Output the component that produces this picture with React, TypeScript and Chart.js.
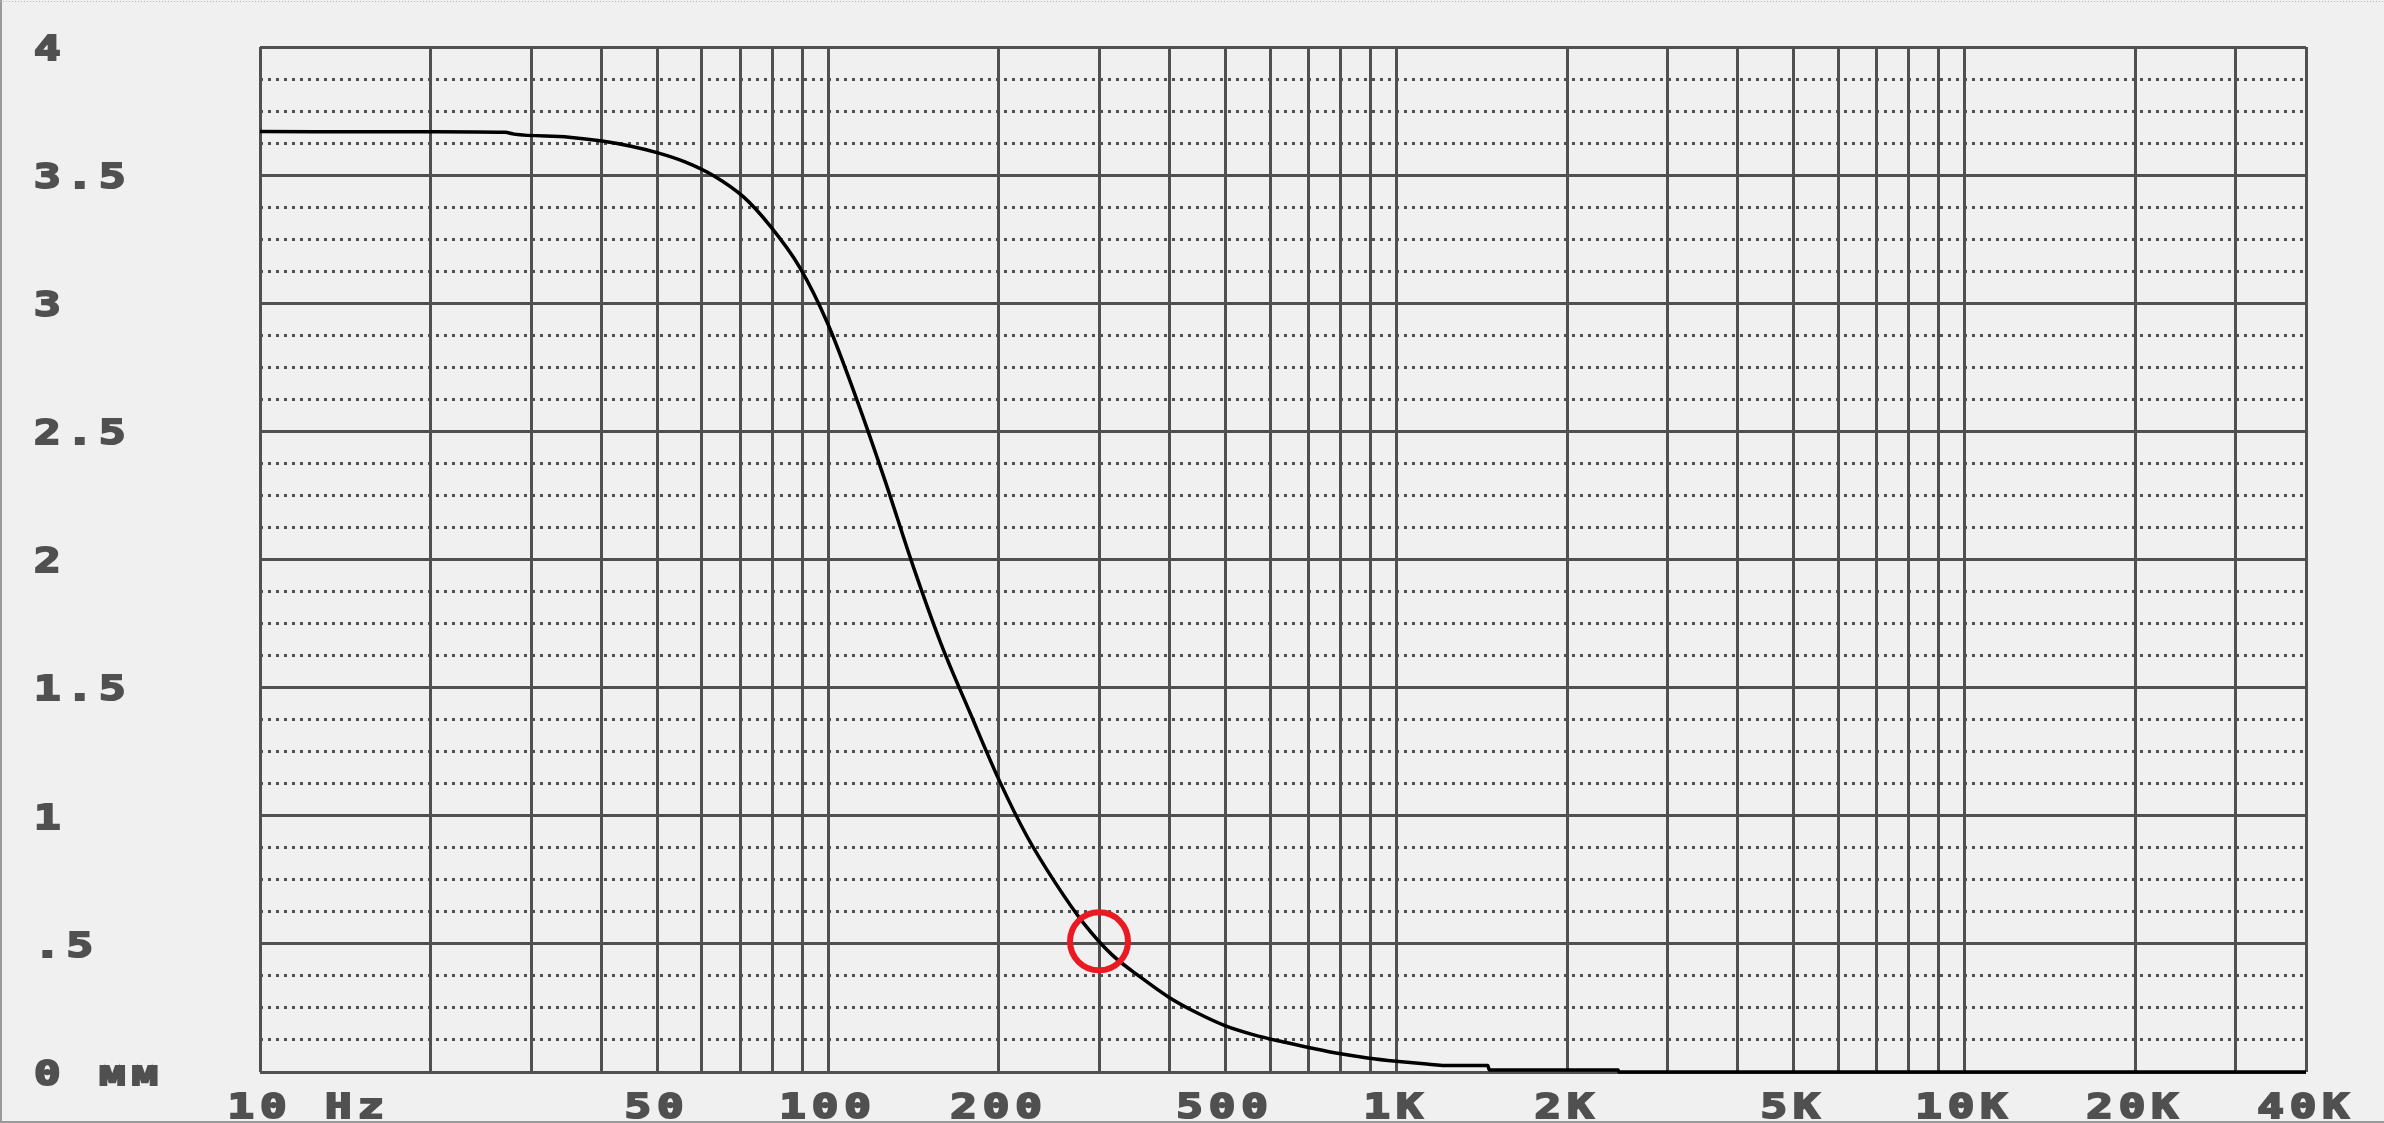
import React, { useEffect, useRef } from 'react';
import { Chart, registerables } from 'chart.js';

Chart.register(...registerables);

// Excursion curve (mm) against frequency (Hz)
const FREQ_HZ = [
  10, 20, 27, 28, 35, 40, 45, 50, 56, 63, 71, 79, 89, 100, 112, 126, 141,
  158, 178, 200, 224, 251, 282, 316, 355, 398, 447, 501, 562, 631, 708,
  794, 891, 1000, 1120, 1250, 1450, 1460, 2460, 2470, 40000,
];
const EXCURSION_MM = [
  3.67, 3.669, 3.667, 3.66, 3.648, 3.633, 3.613, 3.588, 3.552, 3.497, 3.415,
  3.303, 3.143, 2.918, 2.633, 2.308, 1.978, 1.673, 1.4, 1.14, 0.92, 0.74,
  0.58, 0.458, 0.37, 0.292, 0.23, 0.18, 0.145, 0.118, 0.094, 0.072,
  0.055, 0.042, 0.032, 0.025, 0.025, 0.008, 0.008, 0, 0,
];

// Red ring marker on the curve
const MARKER_HZ = [300];
const MARKER_MM = [0.51];

// Vertical grid lines (log decades)
const X_GRID_HZ = [
  10, 20, 30, 40, 50, 60, 70, 80, 90,
  100, 200, 300, 400, 500, 600, 700, 800, 900,
  1000, 2000, 3000, 4000, 5000, 6000, 7000, 8000, 9000,
  10000, 20000, 30000, 40000,
];
const X_LABEL_HZ = [10, 50, 100, 200, 500, 1000, 2000, 5000, 10000, 20000, 40000];
const X_LABEL_TEXT = ['10 Hz', '50', '100', '200', '500', '1K', '2K', '5K', '10K', '20K', '40K'];

const Y_LABEL_MM = [0, 0.5, 1, 1.5, 2, 2.5, 3, 3.5, 4];
const Y_LABEL_TEXT = ['0 мм', '.5', '1', '1.5', '2', '2.5', '3', '3.5', '4'];

const INK = '#505050';
const BG = '#f0f0f0';
const RED = '#ea1a22';
const FONT = {
  family: '"DejaVu Sans Mono", "Liberation Mono", monospace',
  size: 34,
  weight: 'bold' as const,
  lineHeight: 1,
};
const SPACING = '4.5px';
const TEXT_STRETCH = 1.3; // the reference uses a wide, blocky bitmap font

const isMajor = (v: number | undefined) =>
  v !== undefined && Y_LABEL_MM.some((m) => Math.abs(m - v) < 1e-6);

export default function App() {
  const ref = useRef<HTMLCanvasElement>(null);

  useEffect(() => {
    document.body.style.margin = '0';
    document.body.style.overflow = 'hidden';
    const canvas = ref.current!;
    const ctx2d = canvas.getContext('2d') as any;

    // widen glyphs horizontally around the anchor point
    const proto = CanvasRenderingContext2D.prototype;
    const wrap = (fn: any) =>
      function (this: any, text: string, x: number, y: number, maxW?: number) {
        this.save();
        this.translate(x, y);
        this.scale(TEXT_STRETCH, 1);
        if (maxW === undefined) fn.call(this, text, 0, 0);
        else fn.call(this, text, 0, 0, maxW);
        this.restore();
      };
    ctx2d.fillText = wrap(proto.fillText);
    ctx2d.strokeText = wrap(proto.strokeText);

    const framePlugin = {
      id: 'frame',
      beforeUpdate(chart: any) {
        chart.ctx.letterSpacing = SPACING;
      },
      beforeDraw(chart: any) {
        const { ctx, width, height } = chart;
        ctx.save();
        ctx.fillStyle = BG;
        ctx.fillRect(0, 0, width, height);
        ctx.fillStyle = '#9a9a9a';
        ctx.fillRect(0, 0, 2, height);
        ctx.fillRect(0, height - 2, width, 2);
        ctx.strokeStyle = '#b8b8b8';
        ctx.lineWidth = 1;
        ctx.setLineDash([1, 2]);
        ctx.beginPath();
        ctx.moveTo(0, 1.5);
        ctx.lineTo(width, 1.5);
        ctx.stroke();
        ctx.restore();
        ctx.letterSpacing = SPACING;
      },
    };

    const chart = new Chart(canvas, {
      type: 'line',
      data: {
        datasets: [
          {
            type: 'scatter',
            data: MARKER_HZ.map((f, i) => ({ x: f, y: MARKER_MM[i] })),
            showLine: false,
            pointStyle: 'circle',
            pointRadius: 29,
            pointBorderWidth: 6,
            pointBorderColor: RED,
            pointBackgroundColor: 'rgba(0,0,0,0)',
            borderColor: RED,
            backgroundColor: 'rgba(0,0,0,0)',
            clip: false,
          } as any,
          {
            data: FREQ_HZ.map((f, i) => ({ x: f, y: EXCURSION_MM[i] })),
            borderColor: '#000000',
            borderWidth: 3.5,
            pointRadius: 0,
            cubicInterpolationMode: 'monotone',
            clip: 6,
          } as any,
        ],
      },
      options: {
        responsive: false,
        animation: false,
        devicePixelRatio: 1,
        events: [],
        layout: { padding: { left: 34, top: 47, right: 78, bottom: 0 } },
        plugins: { legend: { display: false }, tooltip: { enabled: false } },
        scales: {
          x: {
            type: 'logarithmic',
            min: 10,
            max: 40000,
            afterBuildTicks: (s: any) => {
              s.ticks = X_GRID_HZ.map((v) => ({ value: v }));
            },
            afterFit: (s: any) => {
              s.height = 51;
              s.paddingLeft = 0;
              s.paddingRight = 0;
            },
            grid: { color: INK, lineWidth: 3, drawTicks: false },
            border: { display: false },
            ticks: {
              autoSkip: false,
              maxRotation: 0,
              minRotation: 0,
              padding: 20,
              color: INK,
              font: FONT,
              textStrokeColor: INK,
              textStrokeWidth: 2,
              callback: (v: any) => {
                const i = X_LABEL_HZ.indexOf(Number(v));
                if (i < 0) return '';
                return i === 0 ? '   ' + X_LABEL_TEXT[0] : X_LABEL_TEXT[i];
              },
            },
          } as any,
          y: {
            type: 'linear',
            min: 0,
            max: 4,
            afterFit: (s: any) => {
              s.width = 226;
              s.paddingTop = 0;
              s.paddingBottom = 0;
            },
            grid: { color: INK, lineWidth: 3, drawTicks: false },
            border: {
              display: false,
              dash: (ctx: any) => (ctx.tick && !isMajor(ctx.tick.value) ? [3, 5] : []),
            },
            ticks: {
              stepSize: 0.125,
              autoSkip: false,
              crossAlign: 'far',
              padding: 0,
              labelOffset: 4,
              color: INK,
              font: FONT,
              textStrokeColor: INK,
              textStrokeWidth: 2,
              callback: (v: any) => {
                const i = Y_LABEL_MM.findIndex((m) => Math.abs(m - Number(v)) < 1e-6);
                return i < 0 ? '' : Y_LABEL_TEXT[i];
              },
            },
          } as any,
        },
      },
      plugins: [framePlugin],
    });

    return () => {
      chart.destroy();
      delete ctx2d.fillText;
      delete ctx2d.strokeText;
    };
  }, []);

  return <canvas ref={ref} width={2384} height={1123} style={{ display: 'block' }} />;
}
